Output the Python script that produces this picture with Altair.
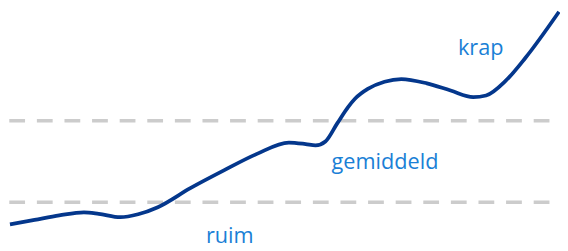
import altair as alt
import pandas as pd

# curve (horizontal position, level)
xs = [10, 35, 60, 85, 100, 122, 140, 160, 193, 227, 260, 293, 310, 320, 330, 342, 353, 360,
      373, 390, 407, 433, 457, 480, 493, 513, 533, 567]
ys = [25.3, 29.8, 34.3, 37.5, 36, 32.5, 35.5, 42.7, 62, 80, 96.5, 108.3, 106.7, 105.3, 109.3,
      127.7, 144.3, 152.7, 162.7, 170, 172.7, 168.3, 161, 154.3, 156, 171, 194.3, 241]

levels = [47.7, 130.3]
level_start = [9.3, 9.3]
level_end = [557.3, 557.3]

labels = ["krap", "gemiddeld", "ruim"]
label_x = [487.5, 390.5, 233]
label_y = [196.7, 81.7, 6]

line_df = pd.DataFrame({"x": xs, "y": ys})
lev_df = pd.DataFrame({"y": levels, "x": level_start, "x2": level_end})
lab_df = pd.DataFrame({"t": labels, "x": label_x, "y": label_y})

xsc = alt.Scale(domain=[8, 568], nice=False, zero=False)
ysc = alt.Scale(domain=[0, 243], nice=False, zero=False)

rules = alt.Chart(lev_df).mark_rule(
    color="#cccccc", strokeWidth=3.5, strokeDash=[16, 12]
).encode(
    x=alt.X("x:Q", scale=xsc, axis=None),
    x2="x2:Q",
    y=alt.Y("y:Q", scale=ysc, axis=None),
)

line = alt.Chart(line_df).mark_line(
    color="#04378c", strokeWidth=3.8, interpolate="monotone", clip=False
).encode(
    x=alt.X("x:Q", scale=xsc, axis=None),
    y=alt.Y("y:Q", scale=ysc, axis=None),
)

text = alt.Chart(lab_df).mark_text(
    font="Open Sans", fontSize=22, color="#1a80d6", baseline="alphabetic", align="center"
).encode(
    x=alt.X("x:Q", scale=xsc, axis=None),
    y=alt.Y("y:Q", scale=ysc, axis=None),
    text="t:N",
)

chart = (rules + line + text).properties(
    width=560, height=243, padding=0,
    autosize=alt.AutoSizeParams(type="none"),
).configure_view(stroke=None)

chart.save("out.html", embed_options={"renderer": "svg", "actions": False})
